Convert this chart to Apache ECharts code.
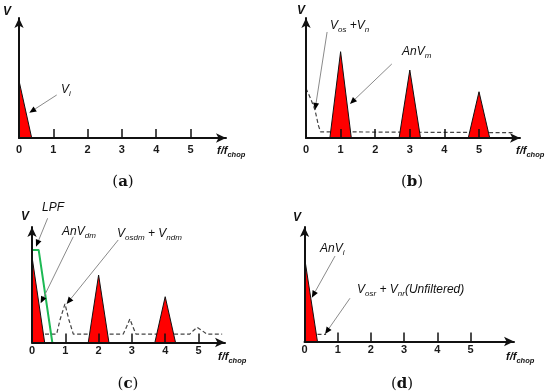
<!DOCTYPE html>
<html><head><meta charset="utf-8">
<script src="https://cdn.jsdelivr.net/npm/echarts@6/dist/echarts.min.js"></script>
<style>html,body{margin:0;padding:0;background:#fff}#c{width:550px;height:392px}</style>
</head><body><div id="c"></div>
<script>
// ================= DATA (x in f/fchop, y in arbitrary V units) =================
const tickValues = [1, 2, 3, 4, 5];
const tickLabels = [0, 1, 2, 3, 4, 5];

// (a) input signal spectrum at DC
const aInput = [[0, 0], [0, 4.62], [0.37, 0]];

// (b) chopped signal: peaks [centre, height] and half base width
const bPeaks = [[1, 6.96], [3, 5.48], [5, 3.73]];
const bHalfWidth = 0.31;
const bOffsetNoise = [[0, 4.0], [0.13, 3.2], [0.26, 2.26], [0.36, 1.0], [0.42, 0.5], [0.47, 0.43], [5.97, 0.43]];

// (c) demodulated
const cInput = [[0, 0], [0, 7.12], [0.38, 0]];
const cPeaks = [[2, 5.6], [4, 3.8]];
const cHalfWidth = 0.31;
const cLPF = [[0, 7.68], [0.2, 7.68], [0.61, 0]];
const cOffsetNoise = [[0, 0.7], [0.74, 0.7], [0.84, 1.87], [0.99, 3.2], [1.11, 1.87], [1.24, 0.7],
  [2.74, 0.7], [2.84, 1.3], [2.94, 1.95], [3.03, 1.3], [3.12, 0.7],
  [4.74, 0.7], [4.85, 1.0], [4.96, 1.26], [5.1, 1.0], [5.25, 0.7], [5.71, 0.7]];

// (d) after low-pass filter
const dInput = [[0, 0], [0, 7.05], [0.39, 0]];
const dResidual = [[0, 0.6], [0.65, 0.6]];

// annotation arrows (data coordinates: from -> to)
const aArrowVi = [[1.10, 3.47], [0.30, 2.04]];
const bArrowVos = [[0.61, 8.55], [0.26, 2.26]];
const bArrowAnVm = [[2.48, 5.97], [1.27, 2.74]];
const cArrowLPF = [[0.47, 10.31], [0.12, 7.95]];
const cArrowAnVdm = [[1.24, 8.78], [0.26, 3.25]];
const cArrowVosdm = [[2.59, 8.51], [1.04, 3.2]];
const dArrowAnVi = [[0.92, 7.15], [0.22, 3.67]];
const dArrowVosr = [[1.37, 3.62], [0.62, 0.63]];

// ================= LAYOUT =================
const panels = [
  {ox: 19, oy: 138, sx: 34.3, sy: 12.4, xEnd: 226, yEnd: 18, margin: 6},
  {ox: 306, oy: 138, sx: 34.6, sy: 12.4, xEnd: 520, yEnd: 18, margin: 6},
  {ox: 32, oy: 342.5, sx: 33.3, sy: 12.05, xEnd: 225, yEnd: 227, margin: 3},
  {ox: 304.5, oy: 341.5, sx: 33.2, sy: 11.95, xEnd: 514, yEnd: 227, margin: 3}
];
const sans = 'Liberation Sans, Arial, sans-serif';

const chart = echarts.init(document.getElementById('c'), null, {renderer: 'canvas'});
const grids = [], xAxes = [], yAxes = [], series = [];
panels.forEach((p, i) => {
  grids.push({left: p.ox, top: p.yEnd, width: p.xEnd - p.ox, height: p.oy - p.yEnd});
  xAxes.push({
    type: 'value', gridIndex: i, min: 0, max: (p.xEnd - p.ox) / p.sx, z: 5,
    axisLine: {show: true, onZero: false, symbol: ['none', 'arrow'], symbolSize: [7, 10], lineStyle: {color: '#111', width: 2}},
    axisTick: {show: true, inside: true, length: 9, customValues: tickValues, lineStyle: {color: '#111', width: 1.5}},
    axisLabel: {show: true, customValues: tickLabels, margin: p.margin, fontSize: 11, fontWeight: 'bold', color: '#1a1a1a', fontFamily: sans},
    splitLine: {show: false}
  });
  yAxes.push({
    type: 'value', gridIndex: i, min: 0, max: (p.oy - p.yEnd) / p.sy, z: 5,
    axisLine: {show: true, onZero: false, symbol: ['none', 'arrow'], symbolSize: [7, 10], lineStyle: {color: '#111', width: 2}},
    axisTick: {show: false}, axisLabel: {show: false}, splitLine: {show: false}
  });
});

function tri(pk, w) { return [[pk[0] - w, 0], [pk[0], pk[1]], [pk[0] + w, 0]]; }
function redSeries(i, data) {
  return {type: 'line', xAxisIndex: i, yAxisIndex: i, data: data, symbol: 'none', silent: true, z: 3,
    lineStyle: {color: '#111', width: 1}, areaStyle: {color: '#ff0000', opacity: 1}};
}
function dashSeries(i, data) {
  return {type: 'line', xAxisIndex: i, yAxisIndex: i, data: data, symbol: 'none', silent: true, z: 2,
    lineStyle: {color: '#444', width: 1.2, type: [4, 2.5]}};
}
// (a)
series.push(redSeries(0, aInput));
// (b)
series.push(dashSeries(1, bOffsetNoise));
bPeaks.forEach(pk => series.push(redSeries(1, tri(pk, bHalfWidth))));
// (c)
series.push(dashSeries(2, cOffsetNoise));
series.push(redSeries(2, cInput));
cPeaks.forEach(pk => series.push(redSeries(2, tri(pk, cHalfWidth))));
series.push({type: 'line', xAxisIndex: 2, yAxisIndex: 2, data: cLPF, symbol: 'none', silent: true, z: 4,
  lineStyle: {color: '#1db954', width: 2}});
// (d)
series.push(dashSeries(3, dResidual));
series.push(redSeries(3, dInput));

chart.setOption({animation: false, grid: grids, xAxis: xAxes, yAxis: yAxes, series: series});

// ================= ANNOTATIONS =================
const ink = '#111';
const rich = {
  v: {fontSize: 12, fontStyle: 'italic', fontFamily: sans, fill: ink, lineHeight: 16},
  s: {fontSize: 8, fontStyle: 'italic', fontFamily: sans, fill: ink, lineHeight: 8, verticalAlign: 'bottom'},
  t: {fontSize: 12, fontStyle: 'italic', fontWeight: 'bold', fontFamily: sans, fill: ink, lineHeight: 16},
  f: {fontSize: 11, fontStyle: 'italic', fontWeight: 'bold', fontFamily: sans, fill: ink, lineHeight: 15},
  fs: {fontSize: 7.5, fontStyle: 'italic', fontWeight: 'bold', fontFamily: sans, fill: ink, lineHeight: 7, verticalAlign: 'bottom'},
  p: {fontSize: 15, fontFamily: 'DejaVu Serif, Liberation Serif, serif', fill: ink},
  b: {fontSize: 15, fontWeight: 'bold', fontFamily: 'DejaVu Serif, Liberation Serif, serif', fill: ink}
};
function txt(x, y, text, align) {
  return {type: 'text', x: x, y: y, z: 20, silent: true,
    style: {text: text, rich: rich, align: align || 'left', verticalAlign: 'middle'}};
}
const g = [
  txt(3, 12, '{t|V}'), txt(61, 90, '{v|V}{s|i}'), txt(217, 151, '{f|f/f}{fs|chop}'), txt(123, 182, '{p|(}{b|a}{p|)}', 'center'),
  txt(297, 11, '{t|V}'), txt(330, 26, '{v|V}{s|os}{v| +V}{s|n}'), txt(402, 52, '{v|AnV}{s|m}'), txt(516, 151, '{f|f/f}{fs|chop}'), txt(412, 182, '{p|(}{b|b}{p|)}', 'center'),
  txt(21, 217, '{t|V}'), txt(42, 208, '{v|LPF}'), txt(62, 232, '{v|AnV}{s|dm}'), txt(117, 234, '{v|V}{s|osdm}{v| + V}{s|ndm}'), txt(218, 357, '{f|f/f}{fs|chop}'), txt(128, 384, '{p|(}{b|c}{p|)}', 'center'),
  txt(293, 218, '{t|V}'), txt(320, 249, '{v|AnV}{s|i}'), txt(357, 290, '{v|V}{s|osr}{v| + V}{s|nr}{v|(Unfiltered)}'), txt(506, 357, '{f|f/f}{fs|chop}'), txt(402, 384, '{p|(}{b|d}{p|)}', 'center')
];
function arrow(gi, seg) {
  const a = chart.convertToPixel({gridIndex: gi}, seg[0]);
  const b = chart.convertToPixel({gridIndex: gi}, seg[1]);
  const dx = b[0] - a[0], dy = b[1] - a[1], len = Math.hypot(dx, dy);
  const ux = dx / len, uy = dy / len, L = 7, W = 3;
  const bx = b[0] - ux * L, by = b[1] - uy * L;
  g.push({type: 'line', z: 15, silent: true, shape: {x1: a[0], y1: a[1], x2: bx, y2: by}, style: {stroke: '#8a8a8a', lineWidth: 1}});
  g.push({type: 'polygon', z: 16, silent: true, shape: {points: [[b[0], b[1]], [bx - uy * W, by + ux * W], [bx + uy * W, by - ux * W]]}, style: {fill: '#000'}});
}
arrow(0, aArrowVi);
arrow(1, bArrowVos); arrow(1, bArrowAnVm);
arrow(2, cArrowLPF); arrow(2, cArrowAnVdm); arrow(2, cArrowVosdm);
arrow(3, dArrowAnVi); arrow(3, dArrowVosr);
chart.setOption({graphic: g});
</script></body></html>
